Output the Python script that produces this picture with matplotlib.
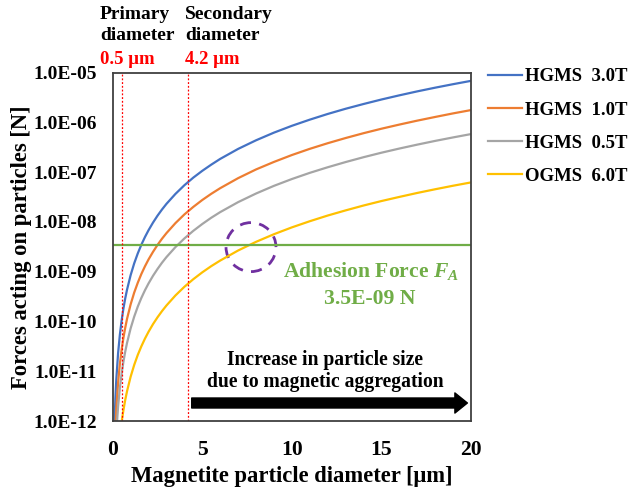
import matplotlib
matplotlib.use("Agg")
import matplotlib.pyplot as plt
from matplotlib.patches import Ellipse, FancyArrowPatch
from matplotlib.ticker import FixedLocator

plt.rcParams['font.family'] = ['Liberation Serif', 'DejaVu Serif']
plt.rcParams['font.weight'] = 'bold'
plt.rcParams['mathtext.fontset'] = 'custom'
plt.rcParams['mathtext.it'] = 'Liberation Serif:italic:bold'
plt.rcParams['mathtext.rm'] = 'Liberation Serif:bold'

# Data
diameter = [0.1, 0.15, 0.2, 0.3, 0.4, 0.5, 0.6, 0.7, 0.8, 1, 1.2, 1.4, 1.6, 1.8, 2,
            2.25, 2.5, 2.75, 3, 3.5, 4, 4.5, 5, 5.5, 6, 7, 8, 9, 10, 11, 12, 13, 14,
            15, 16, 17, 18, 19, 20]
hgms_30 = [8.5e-13, 2.87e-12, 6.8e-12, 2.3e-11, 5.44e-11, 1.06e-10, 1.84e-10, 2.92e-10,
           4.35e-10, 8.5e-10, 1.47e-9, 2.33e-9, 3.48e-9, 4.96e-9, 6.8e-9, 9.68e-9,
           1.33e-8, 1.77e-8, 2.3e-8, 3.64e-8, 5.44e-8, 7.75e-8, 1.06e-7, 1.41e-7,
           1.84e-7, 2.92e-7, 4.35e-7, 6.2e-7, 8.5e-7, 1.13e-6, 1.47e-6, 1.87e-6,
           2.33e-6, 2.87e-6, 3.48e-6, 4.18e-6, 4.96e-6, 5.83e-6, 6.8e-6]
hgms_10 = [2.2e-13, 7.4e-13, 1.76e-12, 5.9e-12, 1.41e-11, 2.75e-11, 4.75e-11, 7.5e-11,
           1.13e-10, 2.2e-10, 3.8e-10, 6.0e-10, 9.0e-10, 1.28e-9, 1.76e-9, 2.5e-9,
           3.44e-9, 4.58e-9, 5.94e-9, 9.43e-9, 1.41e-8, 2.0e-8, 2.75e-8, 3.66e-8,
           4.75e-8, 7.55e-8, 1.13e-7, 1.6e-7, 2.2e-7, 2.93e-7, 3.8e-7, 4.83e-7,
           6.04e-7, 7.43e-7, 9.0e-7, 1.08e-6, 1.28e-6, 1.51e-6, 1.76e-6]
hgms_05 = [7.3e-14, 2.45e-13, 5.8e-13, 1.96e-12, 4.64e-12, 9.06e-12, 1.57e-11, 2.49e-11,
           3.71e-11, 7.25e-11, 1.25e-10, 1.99e-10, 2.97e-10, 4.23e-10, 5.8e-10, 8.26e-10,
           1.13e-9, 1.51e-9, 1.96e-9, 3.11e-9, 4.64e-9, 6.61e-9, 9.06e-9, 1.21e-8,
           1.57e-8, 2.49e-8, 3.71e-8, 5.29e-8, 7.25e-8, 9.65e-8, 1.25e-7, 1.59e-7,
           1.99e-7, 2.45e-7, 2.97e-7, 3.56e-7, 4.23e-7, 4.97e-7, 5.8e-7]
ogms_60 = [7.8e-15, 2.6e-14, 6.2e-14, 2.1e-13, 4.96e-13, 9.69e-13, 1.67e-12, 2.66e-12,
           3.97e-12, 7.75e-12, 1.34e-11, 2.13e-11, 3.17e-11, 4.52e-11, 6.2e-11, 8.83e-11,
           1.21e-10, 1.61e-10, 2.09e-10, 3.32e-10, 4.96e-10, 7.06e-10, 9.69e-10, 1.29e-9,
           1.67e-9, 2.66e-9, 3.97e-9, 5.65e-9, 7.75e-9, 1.03e-8, 1.34e-8, 1.70e-8,
           2.13e-8, 2.62e-8, 3.17e-8, 3.81e-8, 4.52e-8, 5.32e-8, 6.2e-8]
series_labels = ["HGMS  3.0T", "HGMS  1.0T", "HGMS  0.5T", "OGMS  6.0T"]
adhesion_force = 3.5e-9
primary_d = 0.5
secondary_d = 4.2
x_ticks = [0, 5, 10, 15, 20]
y_ticks = [1e-12, 1e-11, 1e-10, 1e-9, 1e-8, 1e-7, 1e-6, 1e-5]
y_tick_labels = ["1.0E-12", "1.0E-11", "1.0E-10", "1.0E-09", "1.0E-08", "1.0E-07",
                 "1.0E-06", "1.0E-05"]

colors = ["#4472C4", "#ED7D31", "#A5A5A5", "#FFC000"]

fig = plt.figure(figsize=(6.35, 4.9), dpi=100)
ax = fig.add_axes([0.1775, 0.1408, 0.5642, 0.7112])

for ys, c, lab in zip([hgms_30, hgms_10, hgms_05, ogms_60], colors, series_labels):
    ax.plot(diameter, ys, color=c, lw=1.6, label=lab)

ax.plot([0, 20], [adhesion_force, adhesion_force], color="#70AD47", lw=1.6)
ax.axvline(primary_d, color="#FF0000", lw=0.9, ls=(0, (1.5, 1.5)))
ax.axvline(secondary_d, color="#FF0000", lw=0.9, ls=(0, (1.5, 1.5)))

ax.set_yscale('log')
ax.set_xlim(0, 20)
ax.set_ylim(1e-12, 1e-5)
ax.set_yticks(y_ticks)
ax.set_yticklabels(y_tick_labels)
ax.yaxis.set_minor_locator(FixedLocator([]))
ax.set_xticks(x_ticks)
ax.set_xticklabels([str(t) for t in x_ticks])
ax.tick_params(axis='y', length=0, pad=11.5, labelsize=14)
ax.tick_params(axis='x', length=0, pad=14, labelsize=15.6)
for s in ax.spines.values():
    s.set_color("#404040")
    s.set_linewidth(1.3)

ax.set_xlabel("Magnetite particle diameter [μm]", fontsize=16.3, fontweight='bold', labelpad=4)
ax.set_ylabel("Forces acting on particles [N]", fontsize=16.3, fontweight='bold', labelpad=1)

# legend
ax.legend(loc='upper left', bbox_to_anchor=(1.0475, 1.0126), frameon=False,
          prop={'size': 13.5, 'weight': 'bold'}, handlelength=1.8, handletextpad=0.16,
          labelspacing=0.86, borderaxespad=0, borderpad=0)

# annotations above the plot
fig.text(100 / 635, 1 - 25 / 490, "Primary\ndiameter", fontsize=14, fontweight='bold',
         ha='left', va='center', linespacing=1.33)
fig.text(185 / 635, 1 - 25 / 490, "Secondary\ndiameter", fontsize=14, fontweight='bold',
         ha='left', va='center', linespacing=1.33)
fig.text(100 / 635, 1 - 60 / 490, "0.5 μm", fontsize=13.5, fontweight='bold',
         color="#FF0000", ha='left', va='center')
fig.text(185 / 635, 1 - 60 / 490, "4.2 μm", fontsize=13.5, fontweight='bold',
         color="#FF0000", ha='left', va='center')

# adhesion force text
ax.text(371 / 635, 1 - 271 / 490, "Adhesion Force $F_A$", transform=fig.transFigure,
        fontsize=15.6, fontweight='bold', color="#70AD47", ha='center', va='center')
ax.text(370 / 635, 1 - 299 / 490, "3.5E-09 N", transform=fig.transFigure,
        fontsize=15.6, fontweight='bold', color="#70AD47", ha='center', va='center')

# dashed circle
circ = Ellipse((0.386, 0.499), 0.1395, 0.1406, transform=ax.transAxes, fill=False,
               edgecolor="#7030A0", lw=2, ls=(0, (4, 3)))
ax.add_patch(circ)

# increase text and arrow
ax.text(325 / 635, 1 - 371 / 490, "Increase in particle size\ndue to magnetic aggregation",
        transform=fig.transFigure, fontsize=14.1, fontweight='bold', ha='center',
        va='center', linespacing=1.2)
arrow = FancyArrowPatch((4.41, 2.3e-12), (19.8, 2.3e-12),
                        arrowstyle="simple,head_length=0.9,head_width=1.45,tail_width=0.72",
                        mutation_scale=10, color="black", shrinkA=0, shrinkB=0)
ax.add_patch(arrow)

fig.savefig("out.png", dpi=100, facecolor='white')
